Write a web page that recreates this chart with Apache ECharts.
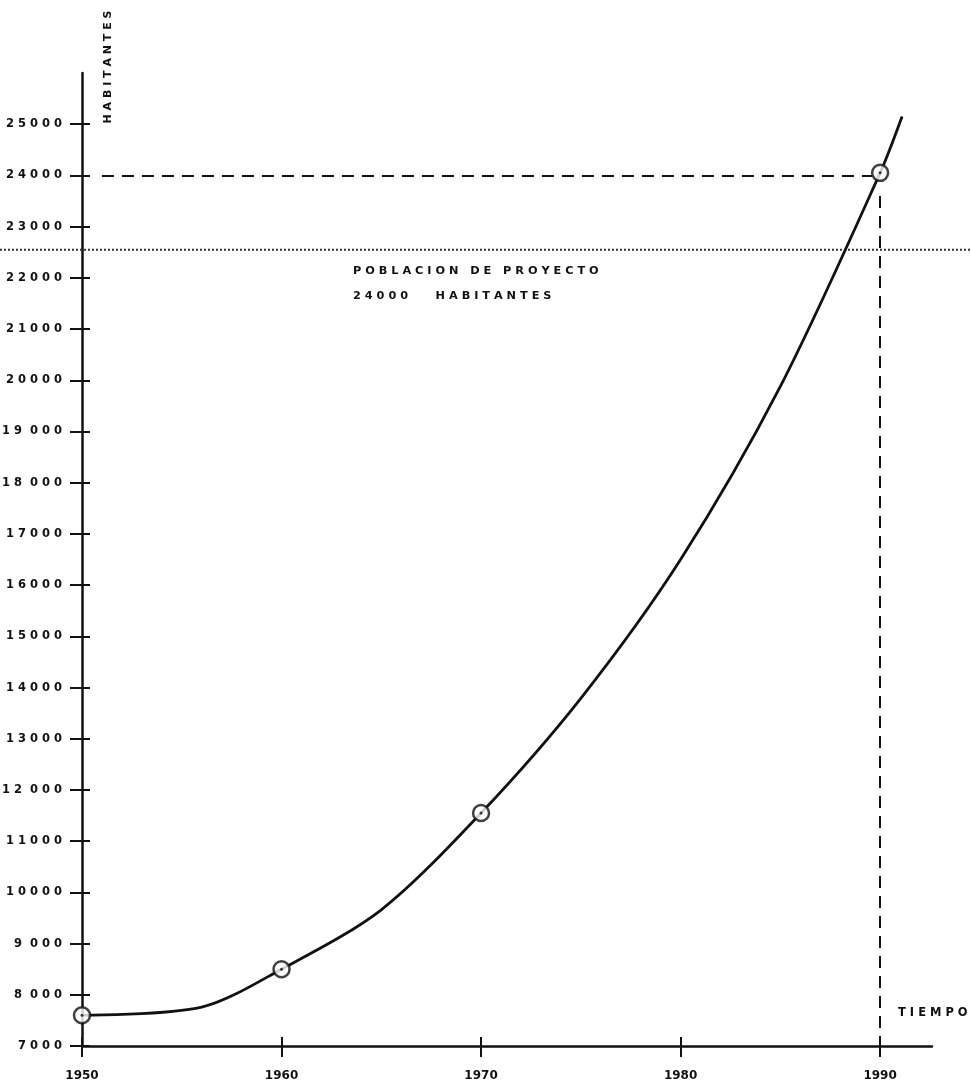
<!DOCTYPE html>
<html>
<head>
<meta charset="utf-8">
<script src="https://cdn.jsdelivr.net/npm/echarts@6/dist/echarts.min.js"></script>
<style>
  html, body { margin: 0; padding: 0; background: #fff; }
  #chart { width: 971px; height: 1089px; }
</style>
</head>
<body>
<div id="chart"></div>
<script>
// valores (poblacion por año)
const censusYears = [1950, 1960, 1970, 1990];
const censusPop = [7600, 8500, 11550, 24050];

// puntos
const curveYears = [1950, 1956, 1960, 1965, 1970, 1975, 1980, 1985, 1990, 1991.1];
const curvePop = [7600, 7760, 8500, 9660, 11550, 13790, 16500, 19880, 24050, 25150];

const yTickValues = [7000, 8000, 9000, 10000, 11000, 12000, 13000, 14000, 15000, 16000, 17000, 18000, 19000, 20000, 21000, 22000, 23000, 24000, 25000];
const yTickLabels = ['7000', '8 000', '9 000', '10000', '11000', '12 000', '13000', '14000', '15000', '16000', '17000', '18 000', '19 000', '20000', '21000', '22000', '23000', '24000', '25000'];
const xTickValues = [1950, 1960, 1970, 1980, 1990];
const xTickLabels = ['1950', '1960', '1970', '1980', '1990'];

const projectPop = 24000;
const projectYear = 1990;
const projectLine = 22550;

const ink = '#111';
const font = 'DejaVu Sans';

// espaciado de letras (estilo rotulado a plantilla)
function spread (s, sep) {
    return s.split('').map(c => c === ' ' ? '' : c).join(sep);
}

const chart = echarts.init(document.getElementById('chart'));

const option = {
    backgroundColor: '#fff',
    animation: false,
    grid: { left: 82, right: 39, top: 73, bottom: 43, outerBoundsMode: 'none', containLabel: false },
    xAxis: [{
        type: 'value',
        min: 1950,
        max: 1992.6,
        splitLine: { show: false },
        axisLine: { show: true, lineStyle: { color: ink, width: 2.5 } },
        axisTick: { length: 11, lineStyle: { color: ink, width: 2 }, customValues: xTickValues },
        axisLabel: {
            customValues: xTickValues,
            margin: 24,
            color: ink,
            fontFamily: font,
            fontWeight: 'bold',
            fontSize: 12,
            formatter: v => xTickLabels[xTickValues.indexOf(v)] || ''
        }
    }, {
        type: 'value',
        position: 'bottom',
        min: 1950,
        max: 1992.6,
        splitLine: { show: false },
        axisLine: { show: false },
        axisTick: { inside: true, length: 9, lineStyle: { color: ink, width: 2 }, customValues: xTickValues },
        axisLabel: { show: false }
    }],
    yAxis: [{
        type: 'value',
        min: 7000,
        max: 26000,
        splitLine: { show: false },
        axisLine: { show: true, lineStyle: { color: ink, width: 2.5 } },
        axisTick: { length: 12, lineStyle: { color: ink, width: 2 }, customValues: yTickValues },
        axisLabel: {
            customValues: yTickValues,
            margin: 20,
            color: ink,
            fontFamily: font,
            fontWeight: 'bold',
            fontSize: 11.5,
            verticalAlign: 'middle',
            padding: [0, 0, 8, 0],
            formatter: v => spread(yTickLabels[yTickValues.indexOf(v)] || '', ' ')
        }
    }, {
        type: 'value',
        position: 'left',
        min: 7000,
        max: 26000,
        splitLine: { show: false },
        axisLine: { show: false },
        axisTick: { inside: true, length: 8, lineStyle: { color: ink, width: 2 }, customValues: yTickValues },
        axisLabel: { show: false }
    }],
    series: [
        {
            name: 'curva',
            type: 'line',
            smooth: 0.3,
            symbol: 'none',
            data: curveYears.map((y, i) => [y, curvePop[i]]),
            lineStyle: { color: ink, width: 2.8 },
            z: 2
        },
        {
            name: 'censos',
            type: 'scatter',
            symbol: 'circle',
            symbolSize: 16,
            data: censusYears.map((y, i) => [y, censusPop[i]]),
            itemStyle: { color: '#fff', borderColor: ink, borderWidth: 2.5 },
            z: 4,
            markLine: {
                silent: true,
                symbol: 'none',
                label: { show: false },
                lineStyle: { color: ink, width: 2, type: [12, 8] },
                data: [
                    [{ coord: [1951, projectPop] }, { coord: [projectYear - 0.4, projectPop] }],
                    [{ coord: [projectYear, projectPop - 400] }, { coord: [projectYear, 7000] }]
                ]
            }
        },
        {
            name: 'centro',
            type: 'scatter',
            symbol: 'circle',
            symbolSize: 3,
            data: censusYears.map((y, i) => [y, censusPop[i]]),
            itemStyle: { color: ink },
            z: 5
        }
    ]
};

chart.setOption(option);

// linea punteada de la poblacion de proyecto, a todo el ancho
const yLine = chart.convertToPixel({ yAxisIndex: 0 }, projectLine);

chart.setOption({
    graphic: [
        {
            type: 'line',
            shape: { x1: 0, y1: yLine, x2: 971, y2: yLine },
            style: { stroke: '#333', lineWidth: 2, lineDash: [2, 2] },
            z: 1
        },
        {
            type: 'text',
            x: 108, y: 67,
            rotation: Math.PI / 2,
            style: {
                text: 'H A B I T A N T E S',
                fill: ink, font: 'bold 11px "DejaVu Sans"',
                align: 'center', verticalAlign: 'middle'
            }
        },
        {
            type: 'text',
            x: 898, y: 1013,
            style: {
                text: 'T I E M P O',
                fill: ink, font: 'bold 11.5px "DejaVu Sans"',
                align: 'left', verticalAlign: 'middle'
            }
        },
        {
            type: 'text',
            x: 353, y: 271,
            style: {
                text: 'P O B L A C I O N   D E   P R O Y E C T O',
                fill: ink, font: 'bold 11.3px "DejaVu Sans"',
                align: 'left', verticalAlign: 'middle'
            }
        },
        {
            type: 'text',
            x: 353, y: 296,
            style: {
                text: '2 4 0 0 0       H A B I T A N T E S',
                fill: ink, font: 'bold 11.3px "DejaVu Sans"',
                align: 'left', verticalAlign: 'middle'
            }
        }
    ]
});
</script>
</body>
</html>
